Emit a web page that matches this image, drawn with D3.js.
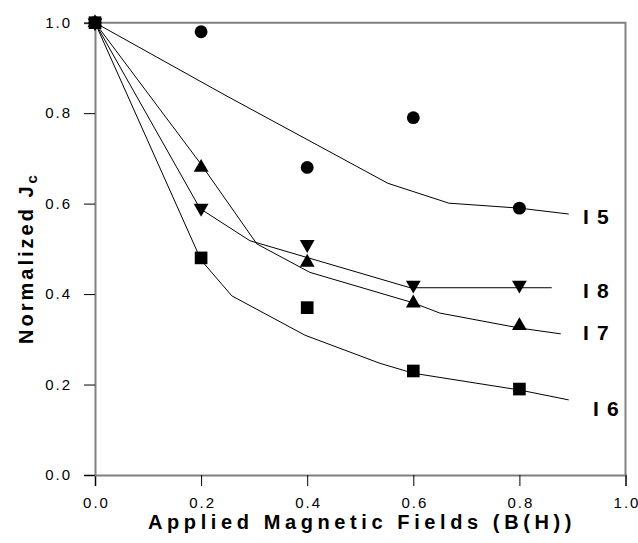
<!DOCTYPE html>
<html>
<head>
<meta charset="utf-8">
<script src="https://cdn.jsdelivr.net/npm/d3@7"></script>
<style>
  body { margin: 0; background: #fff; }
  svg { display: block; font-family: Arial, "Liberation Sans", sans-serif; }
</style>
</head>
<body>
<div id="chart"></div>
<script>
// measured points (x = applied field, y = normalized Jc)
var fieldValues = [0.0, 0.2, 0.4, 0.6, 0.8]
var i5Values = [1.0, 0.98, 0.68, 0.79, 0.59]
var i6Values = [1.0, 0.48, 0.37, 0.23, 0.19]
var i7Values = [1.0, 0.68, 0.47, 0.38, 0.33]
var i8Values = [1.0, 0.59, 0.51, 0.42, 0.42]

// fitted curves
var i5FitX = [0, 0.245, 0.552, 0.667, 0.8, 0.893]
var i5FitY = [1.0, 0.840, 0.645, 0.601, 0.590, 0.577]
var i6FitX = [0, 0.2, 0.258, 0.396, 0.537, 0.6, 0.8, 0.893]
var i6FitY = [1.0, 0.475, 0.396, 0.309, 0.247, 0.225, 0.188, 0.166]
var i7FitX = [0, 0.198, 0.305, 0.405, 0.599, 0.65, 0.8, 0.878]
var i7FitY = [1.0, 0.690, 0.511, 0.448, 0.381, 0.358, 0.325, 0.312]
var i8FitX = [0, 0.198, 0.292, 0.594, 0.861]
var i8FitY = [1.0, 0.589, 0.518, 0.414, 0.414]

var xTicks = [0, 0.2, 0.4, 0.6, 0.8, 1.0]
var yTicks = [0, 0.2, 0.4, 0.6, 0.8, 1.0]

var width = 638
var height = 543

var svg = d3.select('#chart')
  .append('svg')
  .attr('width', width)
  .attr('height', height)

var x = d3.scaleLinear().domain([0, 1]).range([95, 625.5])
var y = d3.scaleLinear().domain([0, 1]).range([475, 22.7])

// frame: top and right border
svg.append('path')
  .attr('d', 'M' + x(0) + ',' + y(1) + 'H' + x(1) + 'V' + y(0))
  .attr('fill', 'none')
  .attr('stroke', '#808080')
  .attr('stroke-width', 2)

var xAxis = svg.append('g')
  .attr('transform', 'translate(0,' + y(0) + ')')
  .call(d3.axisBottom(x).tickValues(xTicks).tickSize(11).tickPadding(11).tickFormat(d3.format('.1f')))

var yAxis = svg.append('g')
  .attr('transform', 'translate(' + x(0) + ',0)')
  .call(d3.axisLeft(y).tickValues(yTicks).tickSize(11).tickPadding(12).tickFormat(d3.format('.1f')))

// style both axes like the original
svg.selectAll('.domain').attr('stroke', '#808080').attr('stroke-width', 2)
svg.selectAll('.tick line').attr('stroke', '#000').attr('stroke-width', 1)
svg.selectAll('.tick text')
  .attr('fill', '#000')
  .style('font-size', '15px')
  .style('letter-spacing', '2px')
xAxis.selectAll('.tick text').attr('dx', '1px')

// fit lines
var series = [
  { fx: i5FitX, fy: i5FitY, vals: i5Values, shape: 'circle', label: 'I 5', lx: 583, ly: 216 },
  { fx: i8FitX, fy: i8FitY, vals: i8Values, shape: 'down', label: 'I 8', lx: 583, ly: 290 },
  { fx: i7FitX, fy: i7FitY, vals: i7Values, shape: 'up', label: 'I 7', lx: 583, ly: 332 },
  { fx: i6FitX, fy: i6FitY, vals: i6Values, shape: 'square', label: 'I 6', lx: 593, ly: 408 }
]

var line = d3.line()
  .x(function (d) { return x(d[0]) })
  .y(function (d) { return y(d[1]) })

series.forEach(function (s) {
  svg.append('path')
    .datum(d3.zip(s.fx, s.fy))
    .attr('d', line)
    .attr('fill', 'none')
    .attr('stroke', '#000')
    .attr('stroke-width', 1)
})

// markers
var symbolFor = {
  circle: d3.symbol().type(d3.symbolCircle).size(130),
  square: d3.symbol().type(d3.symbolSquare).size(160),
  up: d3.symbol().type(d3.symbolTriangle).size(95),
  down: d3.symbol().type(d3.symbolTriangle).size(95)
}

series.forEach(function (s) {
  svg.selectAll(null)
    .data(d3.zip(fieldValues, s.vals))
    .enter()
    .append('path')
    .attr('d', symbolFor[s.shape])
    .attr('fill', '#000')
    .attr('transform', function (d) {
      var t = 'translate(' + x(d[0]) + ',' + y(d[1]) + ')'
      return s.shape == 'down' ? t + ' rotate(180)' : t
    })
})

// curve labels
series.forEach(function (s) {
  svg.append('text')
    .attr('x', s.lx)
    .attr('y', s.ly)
    .attr('dy', '0.36em')
    .style('font-size', '21px')
    .style('font-weight', 'bold')
    .style('letter-spacing', '1.2px')
    .text(s.label)
})

// axis titles
svg.append('text')
  .attr('x', 362)
  .attr('y', 529)
  .attr('text-anchor', 'middle')
  .style('font-size', '20px')
  .style('font-weight', 'bold')
  .style('letter-spacing', '4.6px')
  .text('Applied Magnetic Fields (B(H))')

var yTitle = svg.append('text')
  .attr('transform', 'translate(33,258) rotate(-90)')
  .attr('text-anchor', 'middle')
  .style('font-size', '20px')
  .style('font-weight', 'bold')
  .style('letter-spacing', '3px')
yTitle.append('tspan').text('Normalized J')
yTitle.append('tspan').attr('dy', '4').style('font-size', '15px').text('c')
</script>
</body>
</html>
